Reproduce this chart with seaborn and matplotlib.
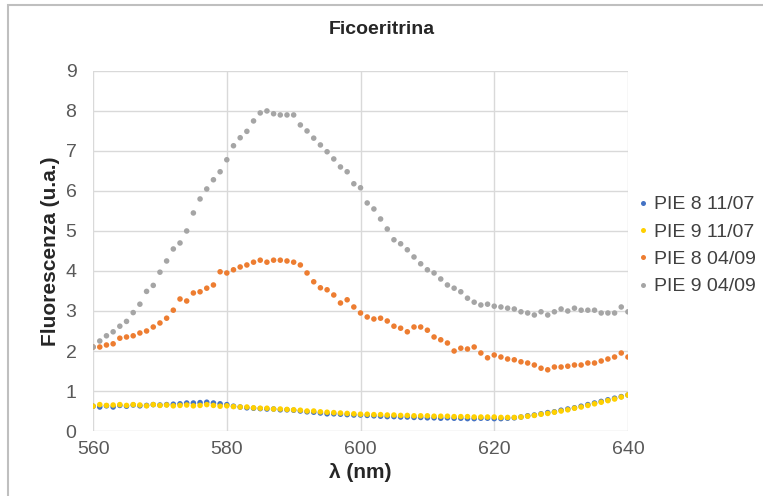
import numpy as np
import pandas as pd
import matplotlib
matplotlib.use("Agg")
import matplotlib.pyplot as plt
import seaborn as sns

wl = list(range(560, 641))

pie8_1107 = [0.62, 0.60, 0.63, 0.60, 0.64, 0.62, 0.65, 0.63, 0.64, 0.66,
             0.65, 0.66, 0.67, 0.68, 0.70, 0.70, 0.71, 0.72, 0.70, 0.68,
             0.66, 0.62, 0.60, 0.58, 0.57, 0.56, 0.55, 0.55, 0.53, 0.53,
             0.52, 0.50, 0.48, 0.47, 0.45, 0.43, 0.43, 0.42, 0.41, 0.40,
             0.40, 0.39, 0.38, 0.37, 0.36, 0.36, 0.35, 0.35, 0.34, 0.34,
             0.33, 0.33, 0.32, 0.33, 0.32, 0.32, 0.31, 0.31, 0.32, 0.32,
             0.31, 0.31, 0.32, 0.33, 0.35, 0.38, 0.40, 0.43, 0.46, 0.48,
             0.52, 0.55, 0.58, 0.62, 0.66, 0.70, 0.74, 0.78, 0.82, 0.86,
             0.90]

pie9_1107 = [0.62, 0.66, 0.64, 0.65, 0.66, 0.64, 0.66, 0.65, 0.63, 0.66,
             0.64, 0.65, 0.63, 0.64, 0.65, 0.63, 0.64, 0.66, 0.64, 0.62,
             0.63, 0.61, 0.60, 0.60, 0.58, 0.57, 0.57, 0.55, 0.55, 0.54,
             0.53, 0.52, 0.50, 0.50, 0.48, 0.47, 0.46, 0.45, 0.44, 0.43,
             0.42, 0.42, 0.41, 0.41, 0.40, 0.40, 0.39, 0.39, 0.38, 0.38,
             0.38, 0.37, 0.37, 0.37, 0.36, 0.36, 0.36, 0.35, 0.35, 0.35,
             0.35, 0.34, 0.34, 0.34, 0.35, 0.37, 0.39, 0.42, 0.44, 0.47,
             0.50, 0.53, 0.57, 0.60, 0.64, 0.68, 0.72, 0.76, 0.80, 0.85,
             0.90]

pie8_0409 = [2.10, 2.10, 2.15, 2.18, 2.32, 2.35, 2.38, 2.45, 2.50, 2.60,
             2.70, 2.82, 3.02, 3.30, 3.25, 3.45, 3.48, 3.57, 3.65, 3.98,
             3.95, 4.03, 4.10, 4.15, 4.22, 4.27, 4.22, 4.27, 4.27, 4.25,
             4.22, 4.15, 3.95, 3.73, 3.58, 3.53, 3.40, 3.20, 3.28, 3.10,
             2.95, 2.85, 2.80, 2.82, 2.75, 2.62, 2.57, 2.48, 2.60, 2.60,
             2.52, 2.35, 2.28, 2.20, 2.00, 2.07, 2.05, 2.10, 1.95, 1.83,
             1.90, 1.85, 1.80, 1.78, 1.73, 1.70, 1.65, 1.57, 1.53, 1.60,
             1.60, 1.62, 1.65, 1.65, 1.70, 1.70, 1.75, 1.80, 1.85, 1.95,
             1.85]

pie9_0409 = [2.10, 2.25, 2.38, 2.48, 2.62, 2.74, 2.96, 3.17, 3.49, 3.64,
             3.97, 4.25, 4.55, 4.70, 5.00, 5.45, 5.80, 6.05, 6.28, 6.48,
             6.78, 7.13, 7.33, 7.49, 7.75, 7.95, 8.00, 7.93, 7.90, 7.90,
             7.90, 7.65, 7.50, 7.32, 7.15, 6.98, 6.80, 6.60, 6.48, 6.18,
             6.08, 5.70, 5.55, 5.30, 5.05, 4.78, 4.68, 4.53, 4.35, 4.18,
             4.03, 3.95, 3.80, 3.65, 3.57, 3.48, 3.32, 3.22, 3.15, 3.17,
             3.12, 3.10, 3.07, 3.05, 2.98, 2.95, 2.90, 2.98, 2.90, 2.98,
             3.05, 3.00, 3.07, 3.02, 3.02, 3.02, 2.95, 2.95, 2.95, 3.10,
             2.98]

series = ["PIE 8 11/07", "PIE 9 11/07", "PIE 8 04/09", "PIE 9 04/09"]
colors = ["#4472C4", "#FFD000", "#ED7D31", "#A5A5A5"]

df = pd.concat([
    pd.DataFrame({"wl": wl, "val": v, "serie": s})
    for s, v in zip(series, [pie8_1107, pie9_1107, pie8_0409, pie9_0409])
])

sns.set_style("whitegrid")
plt.rcParams["font.family"] = ["Liberation Sans", "DejaVu Sans"]

fig = plt.figure(figsize=(7.63, 4.96), dpi=100)
ax = fig.add_axes([0.122, 0.131, 0.701, 0.726])

sns.scatterplot(data=df, x="wl", y="val", hue="serie", hue_order=series,
                palette=colors, s=16, linewidth=0, ax=ax, legend=True)

ax.set_xlim(560, 640)
ax.set_ylim(0, 9)
ax.set_xticks([560, 580, 600, 620, 640])
ax.set_yticks(range(0, 10))
ax.grid(True, color="#D9D9D9", linewidth=1)
for sp in ax.spines.values():
    sp.set_visible(False)
ax.tick_params(axis="y", labelsize=14, labelcolor="#595959", length=0, pad=12)
ax.tick_params(axis="x", labelsize=14, labelcolor="#595959", length=0, pad=7)

ax.set_xlabel("λ (nm)", fontsize=15, fontweight="bold", color="#262626", labelpad=4)
ax.set_ylabel("Fluorescenza (u.a.)", fontsize=15, fontweight="bold", color="#262626", labelpad=4)
fig.text(0.5, 0.94, "Ficoeritrina", ha="center", va="center", fontsize=14,
         fontweight="bold", color="#262626")

leg = ax.legend(loc="center left", bbox_to_anchor=(0.836, 0.505),
                bbox_transform=fig.transFigure, frameon=False, fontsize=14,
                handlelength=0.5, handletextpad=0.35, labelspacing=0.5,
                markerscale=0.9, borderaxespad=0, borderpad=0)
for t in leg.get_texts():
    t.set_color("#404040")

# chart border
fig.add_artist(plt.Rectangle((0.011, -0.05), 1.2, 1.04, transform=fig.transFigure,
                             fill=False, edgecolor="#BFBFBF", linewidth=1.5))

fig.savefig("out.png", dpi=100)
